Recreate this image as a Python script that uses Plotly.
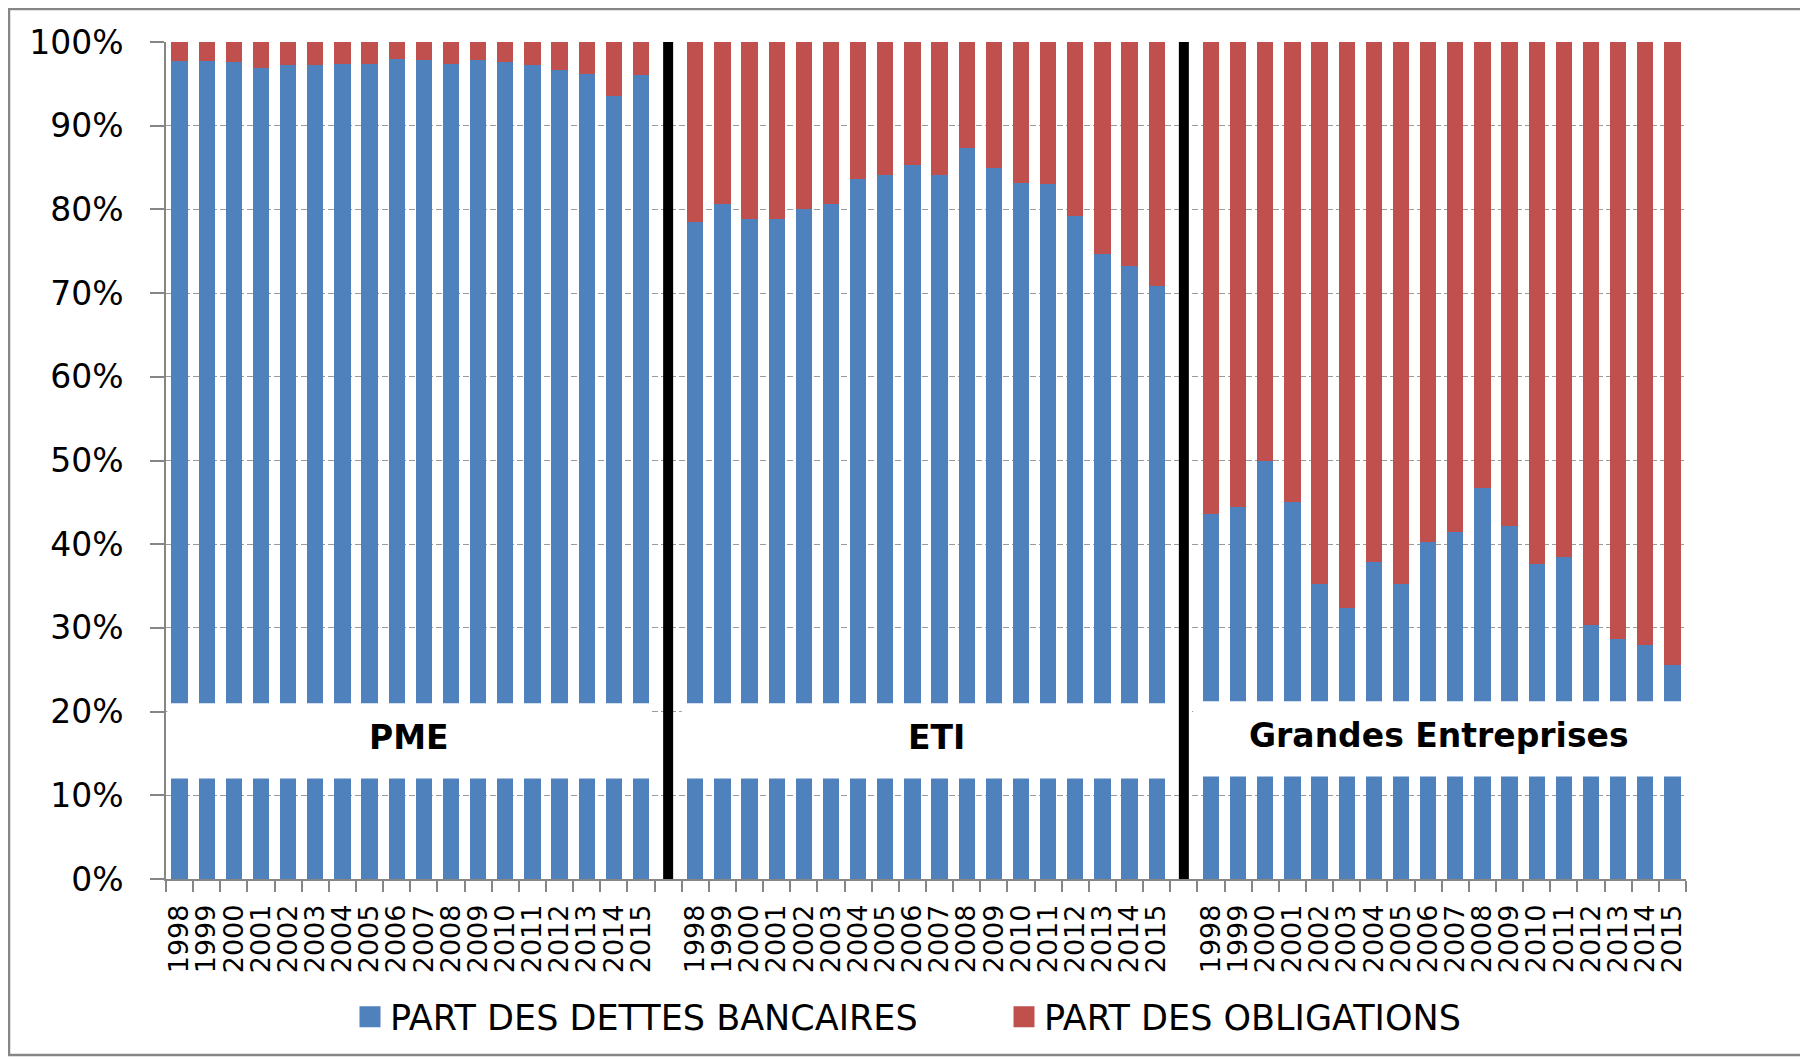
import plotly.graph_objects as go

# ---------------- data ----------------
years = [str(y) for y in range(1998, 2016)]
groups = ["PME", "ETI", "Grandes Entreprises"]

pme_bank = [97.7, 97.7, 97.6, 96.9, 97.2, 97.3, 97.4, 97.4, 98.0, 97.8,
            97.4, 97.8, 97.6, 97.2, 96.6, 96.2, 93.5, 96.0]
eti_bank = [78.5, 80.6, 78.9, 78.8, 80.1, 80.6, 83.6, 84.1, 85.3, 84.1,
            87.3, 85.0, 83.1, 83.0, 79.2, 74.7, 73.2, 70.9]
ge_bank = [43.6, 44.5, 50.0, 45.1, 35.2, 32.4, 37.9, 35.3, 40.3, 41.5,
           46.7, 42.2, 37.6, 38.5, 30.4, 28.7, 27.9, 25.6]

series_bank_name = "PART DES DETTES BANCAIRES"
series_oblig_name = "PART DES OBLIGATIONS"

# ---------------- styles ----------------
BLUE = "#4F81BD"
RED = "#C0504D"
GRID = "#9A9A9A"
AXIS = "#868686"
FONT = "DejaVu Sans"

n = len(years)
step = n + 1  # one empty category between groups
bank_groups = [pme_bank, eti_bank, ge_bank]

xs, bank, oblig, tickvals, ticktext = [], [], [], [], []
for g, vals in enumerate(bank_groups):
    for i, v in enumerate(vals):
        pos = g * step + i
        xs.append(pos)
        bank.append(v)
        oblig.append(round(100 - v, 1))
        tickvals.append(pos)
        ticktext.append(years[i])

n_cat = len(groups) * n + (len(groups) - 1)
boundaries = [k - 0.5 for k in range(n_cat + 1)]

fig = go.Figure()
fig.add_trace(go.Bar(x=xs, y=bank, name=series_bank_name, marker_color=BLUE,
                     marker_line_width=0, showlegend=False))
fig.add_trace(go.Bar(x=xs, y=oblig, name=series_oblig_name, marker_color=RED,
                     marker_line_width=0, showlegend=False))
# legend entries with larger square swatches
for name, col in [(series_bank_name, BLUE), (series_oblig_name, RED)]:
    fig.add_trace(go.Scatter(x=[None], y=[None], mode="markers", name=name,
                             marker=dict(symbol="square", size=16, color=col,
                                         line=dict(color=col, width=5)),
                             hoverinfo="skip"))

# page offset (browser body margin)
OFF = 8
W, H = 1808 - OFF, 1060 - OFF
L, R, T, B = 166 - OFF, 1686 - OFF, 42 - OFF, 879 - OFF


def px_x(p):
    return (p - OFF - L) / (R - L)


def px_y(p):
    return (B - (p - OFF)) / (B - T)


shapes = []
# white label boxes hiding the bars
box_specs = [(-0.45, n - 0.67, 12.0, 21.0),
             (step - 0.5, 2 * step - 1 + 0.25, 12.0, 21.0),
             (2 * step - 0.66, n_cat - 0.55, 12.25, 21.25)]
for x0, x1, y0, y1 in box_specs:
    shapes.append(dict(type="rect", xref="x", yref="y", x0=x0, x1=x1, y0=y0, y1=y1,
                       fillcolor="white", line=dict(width=0), layer="above"))
# black separators in the empty categories
for g in range(1, len(groups)):
    sx = g * step - 1
    shapes.append(dict(type="line", xref="x", yref="y", x0=sx, x1=sx, y0=0, y1=100,
                       line=dict(color="black", width=10), layer="above"))
# outer frame
shapes.append(dict(type="rect", xref="paper", yref="paper",
                   x0=px_x(9), x1=px_x(1802), y0=px_y(1055), y1=px_y(9),
                   line=dict(color=AXIS, width=2.5), fillcolor="rgba(0,0,0,0)",
                   layer="below"))

annotations = []
label_y = [16.95, 16.95, 17.2]
for g, name in enumerate(groups):
    x0, x1, _, _ = box_specs[g]
    annotations.append(dict(x=(x0 + x1) / 2, y=label_y[g], xref="x", yref="y",
                            text="<b>" + name + "</b>", showarrow=False,
                            font=dict(family=FONT, size=33, color="black"),
                            xanchor="center", yanchor="middle"))

fig.update_layout(
    width=W, height=H,
    margin=dict(l=L, r=W - R, t=T, b=H - B, autoexpand=False),
    paper_bgcolor="white", plot_bgcolor="white",
    barmode="stack", bargap=0.4,
    font=dict(family=FONT, color="black"),
    shapes=shapes, annotations=annotations,
    showlegend=True,
    legend=dict(orientation="h", x=px_x(350), xanchor="left",
                y=px_y(1017), yanchor="middle", traceorder="normal",
                font=dict(family=FONT, size=35, color="black"),
                entrywidth=609, entrywidthmode="pixels",
                bgcolor="rgba(0,0,0,0)"),
    xaxis=dict(range=[-0.5, n_cat - 0.5], tickmode="array", tickvals=tickvals,
               ticktext=ticktext, tickangle=-90, ticks="", showgrid=False,
               showline=True, linecolor=AXIS, linewidth=1.5,
               tickfont=dict(family=FONT, size=27, color="black"),
               ticklabelstandoff=13, zeroline=False,
               minor=dict(tickmode="array", tickvals=boundaries, ticks="outside",
                          ticklen=11, tickcolor=AXIS, tickwidth=1.5, showgrid=False)),
    yaxis=dict(range=[0, 100], dtick=10, ticksuffix="%", showgrid=True,
               gridcolor=GRID, griddash="6px,3px", gridwidth=1,
               showline=True, linecolor=AXIS, linewidth=1.5,
               ticks="outside", ticklen=14, tickcolor=AXIS, tickwidth=1.5,
               tickfont=dict(family=FONT, size=33, color="black"),
               ticklabelstandoff=20, zeroline=False),
    yaxis2=dict(range=[0, 100], dtick=10, overlaying="y", side="right",
                showgrid=False, showline=True, linecolor=AXIS, linewidth=1.5,
                ticks="outside", ticklen=13, tickcolor=AXIS, tickwidth=1.5,
                tickfont=dict(family=FONT, size=33, color="black"),
                ticklabelstandoff=29, zeroline=False),
)

fig.write_html("out.html")
